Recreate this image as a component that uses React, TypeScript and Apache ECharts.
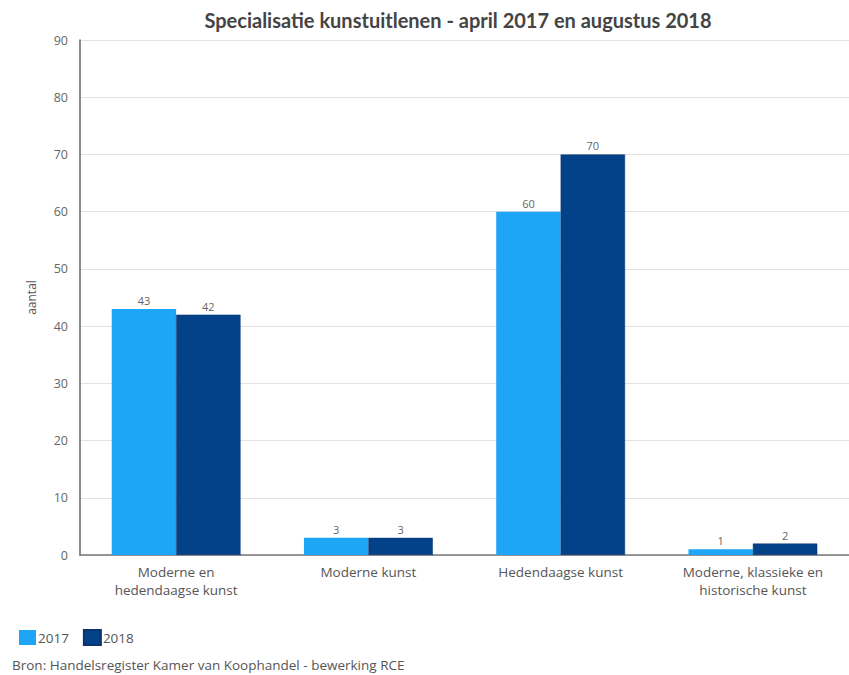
import React, { useEffect, useRef } from "react";
import * as echarts from "echarts";

const categories = [
  "Moderne en\nhedendaagse kunst",
  "Moderne kunst",
  "Hedendaagse kunst",
  "Moderne, klassieke en\nhistorische kunst",
];
const values2017 = [43, 3, 60, 1];
const values2018 = [42, 3, 70, 2];
const yTicks = { min: 0, max: 90, interval: 10 };
const titleText = "Specialisatie kunstuitlenen - april 2017 en augustus 2018";
const sourceText = "Bron: Handelsregister Kamer van Koophandel - bewerking RCE";

const FONT = "'Open Sans', Lato, sans-serif";

export default function App() {
  const ref = useRef<HTMLDivElement>(null);
  useEffect(() => {
    document.body.style.margin = "0";
    if (!ref.current) return;
    const chart = echarts.init(ref.current, null, { renderer: "svg" });
    const labelStyle = {
      show: true,
      position: "top" as const,
      color: "#666",
      fontSize: 11,
      fontFamily: FONT,
      distance: 3,
    };
    chart.setOption({
      animation: false,
      backgroundColor: "#fff",
      textStyle: { fontFamily: FONT },
      graphic: [
        {
          type: "text",
          x: 458,
          y: 20,
          style: {
            text: titleText,
            fontFamily: "Lato, 'Open Sans', sans-serif",
            fontWeight: "bold",
            fontSize: 20,
            fill: "#444",
            textAlign: "center",
            textVerticalAlign: "middle",
          },
        },
        {
          type: "text",
          x: 12,
          y: 665,
          style: {
            text: sourceText,
            fontFamily: FONT,
            fontSize: 13.5,
            fill: "#555",
            textAlign: "left",
            textVerticalAlign: "middle",
          },
        },
      ],
      legend: {
        left: 14,
        top: 624,
        itemWidth: 17,
        itemHeight: 15,
        itemGap: 14,
        icon: "rect",
        textStyle: { color: "#555", fontSize: 13.5, fontFamily: FONT, padding: [0, 0, 0, -3] },
        data: ["2017", "2018"],
      },
      grid: { left: 80, top: 40, width: 773, height: 515 },
      xAxis: {
        type: "category",
        data: categories,
        axisLine: { lineStyle: { color: "#777", width: 1.5 } },
        axisTick: { show: false },
        axisLabel: {
          color: "#555",
          fontSize: 13.5,
          fontFamily: FONT,
          lineHeight: 18,
          margin: 8,
          interval: 0,
        },
      },
      yAxis: {
        type: "value",
        min: yTicks.min,
        max: yTicks.max,
        interval: yTicks.interval,
        name: "aantal",
        nameLocation: "middle",
        nameGap: 43,
        nameTextStyle: { color: "#555", fontSize: 12, fontFamily: FONT },
        axisLine: { show: true, lineStyle: { color: "#666", width: 1.5 } },
        axisTick: { show: false },
        axisLabel: { color: "#666", fontSize: 12.5, fontFamily: FONT, margin: 12 },
        splitLine: { lineStyle: { color: "#e2e2e2", width: 1 } },
      },
      series: [
        {
          name: "2017",
          type: "bar",
          data: values2017,
          barGap: "0%",
          barCategoryGap: "33%",
          itemStyle: { color: "#1fa5f5" },
          label: labelStyle,
        },
        {
          name: "2018",
          type: "bar",
          data: values2018,
          itemStyle: { color: "#034189", borderColor: "#0a3370", borderWidth: 0.5 },
          label: labelStyle,
        },
      ],
    });
    return () => chart.dispose();
  }, []);
  return <div ref={ref} style={{ width: 849, height: 675 }} />;
}
